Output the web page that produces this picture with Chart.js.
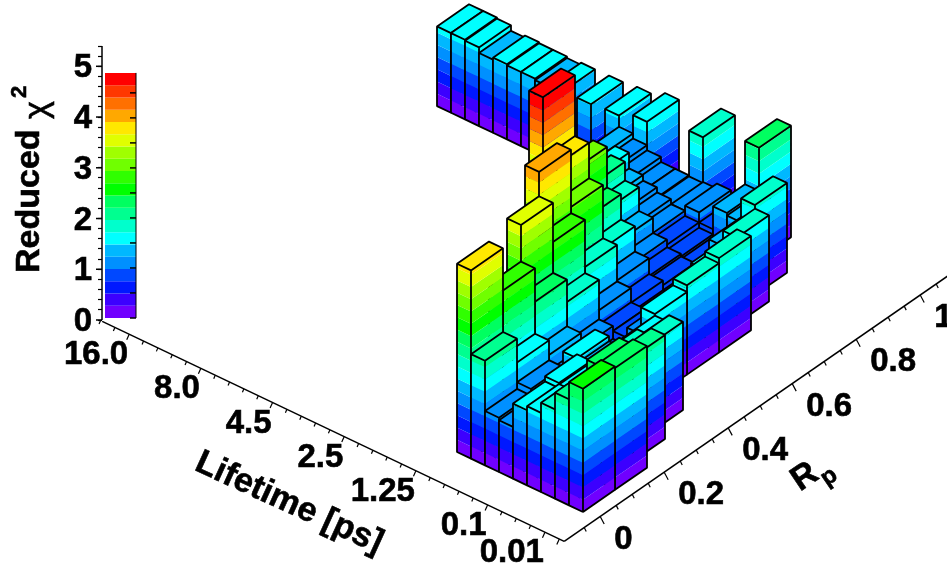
<!DOCTYPE html>
<html>
<head>
<meta charset="utf-8">
<title>Reduced chi2 lego</title>
<script src="https://cdn.jsdelivr.net/npm/chart.js@4/dist/chart.umd.js"></script>
<style>
html, body { margin: 0; padding: 0; background: #fff; }
#wrap { width: 947px; height: 573px; }
</style>
</head>
<body>
<div id="wrap"><canvas id="lego"></canvas></div>
<script>
// reduced chi2 per lifetime bin, one array per Rp bin (0 = empty bin)
const rp00 = [2.43, 2.09, 1.76, 1.56, 1.48, 1.02, 1.07, 2.06, 3.71];
const rp01 = [2.40, 2.30, 1.70, 1.55, 1.58, 1.10, 1.20, 1.59, 2.88];
const rp02 = [0, 2.05, 1.90, 1.60, 1.40, 1.50, 1.00, 1.30, 2.22, 3.60];
const rp03 = [0, 0, 1.74, 1.60, 1.20, 0.90, 0.75, 1.00, 1.78, 2.83, 4.08];
const rp04 = [0, 0, 0, 0, 1.63, 1.10, 0.90, 0.90, 1.18, 1.90, 2.95, 3.65, 4.85];
const rp05 = [0, 0, 0, 0, 1.76, 1.00, 0.80, 0.70, 0.89, 1.20, 1.70, 2.20, 3.00];
const rp06 = [0, 0, 0, 0, 1.86, 1.50, 0.80, 0.70, 0.80, 0.85, 1.00, 1.30, 1.77, 2.14];
const rp07 = [0, 0, 0, 0, 0, 1.70, 1.40, 0.80, 0.75, 0.80, 0.90, 1.00, 1.10, 1.20, 1.31, 1.62];
const rp08 = [0, 0, 0, 0, 0, 0, 1.77, 1.30, 1.35, 0.90, 1.10, 1.00, 0.98, 1.00, 1.00, 1.10, 1.20, 1.30];
const rp09 = [0, 0, 0, 0, 0, 0, 0, 0, 2.20, 0, 0, 0, 1.88, 0, 0, 0, 1.66, 0, 1.52, 0, 1.48, 0, 1.47, 1.43, 1.46, 1.46, 1.48, 1.44, 1.55, 1.57, 1.57];
const rpRows = [rp00, rp01, rp02, rp03, rp04, rp05, rp06, rp07, rp08, rp09];

const lifetimeLabels = ['16.0', '8.0', '4.5', '2.5', '1.25', '0.1', '0.01'];
const lifetimeLabelTicks = [0, 5, 10, 15, 20, 25, 29];
const rpLabels = ['0', '0.2', '0.4', '0.6', '0.8', '1'];
const zLabels = [0, 1, 2, 3, 4, 5];

const palette = ['#7000ff', '#3c00ff', '#0018ff', '#0048ff', '#0090ff', '#00b8ff', '#00ffff', '#00ffcc', '#00ff90', '#00ff60',
                 '#00ff00', '#30ff00', '#70ff00', '#a0ff00', '#e0ff00', '#ffe800', '#ffa800', '#ff7000', '#ff3800', '#ff0000'];
const bandStep = 0.2415;

// oblique view: x scale is in px across the page, y scale is chi2 with the floor below it
const pxPerUnit = 50.74;
const lifeDx = -14, lifeDy = 6.667 / pxPerUnit;
const rowDx = 32, rowDy = 22.14 / pxPerUnit;
const floorX = 583, floorY = (320 - 512) / pxPerUnit;
const yMin = -(573 - 320) / pxPerUnit, yMax = 320 / pxPerUnit;

function project(u, k, z) {
    return { x: floorX + lifeDx * u + rowDx * k, y: floorY + lifeDy * u + rowDy * k + z };
}

const datasets = [];

function addShape(points, color) {
    datasets.push({ data: points.concat([points[0]]), showLine: true, fill: 'shape', backgroundColor: color,
        borderWidth: 0, pointRadius: 0, clip: false });
}

function addLine(points, width) {
    datasets.push({ data: points, showLine: true, fill: false, borderColor: '#000', borderWidth: width,
        borderJoinStyle: 'bevel', pointRadius: 0, clip: false });
}

function addBar(u, k, z) {
    const at = (du, dk, h) => project(u + du, k + dk, h);
    const top = Math.min(Math.floor(z / bandStep), palette.length - 1);
    for (let b = 0; b <= top; b++) {
        const lo = b * bandStep, hi = Math.min((b + 1) * bandStep, z);
        addShape([at(1, 0, lo), at(0, 0, lo), at(0, 1, lo), at(0, 1, hi), at(0, 0, hi), at(1, 0, hi)], palette[b]);
    }
    addShape([at(1, 0, z), at(0, 0, z), at(0, 1, z), at(1, 1, z)], palette[top]);
    addLine([at(0, 0, 0), at(1, 0, 0), at(1, 0, z), at(1, 1, z), at(0, 1, z), at(0, 1, 0), at(0, 0, 0),
             at(0, 0, z), at(1, 0, z), at(0, 0, z), at(0, 1, z)], 1.8);
}

// back rows and far lifetime bins first so near bars paint over them
for (let k = rpRows.length - 1; k >= 0; k--) {
    for (let u = rpRows[k].length - 1; u >= 0; u--) {
        if (rpRows[k][u] > 0) addBar(u, k, rpRows[k][u]);
    }
}

// palette column
const barLeft = 105, barRight = 136, barShift = 2 / pxPerUnit;
palette.forEach((c, b) => {
    const lo = b * bandStep + barShift, hi = (b + 1) * bandStep + barShift;
    addShape([{ x: barLeft, y: lo }, { x: barRight, y: lo }, { x: barRight, y: hi }, { x: barLeft, y: hi }], c);
});
addLine([{ x: barRight, y: barShift }, { x: barRight, y: 20 * bandStep + barShift }], 1);
for (let i = 0; i < 10; i++) {
    addLine([{ x: barRight - 6, y: i * 0.493 + barShift }, { x: barRight, y: i * 0.493 + barShift }], 1.5);
}

// z axis
const zAxisX = 102;
addLine([{ x: zAxisX, y: 0 }, { x: zAxisX, y: 5.4 }], 1.5);
zLabels.forEach(v => addLine([{ x: zAxisX - 6, y: v }, { x: zAxisX, y: v }], 1.5));

// lifetime axis, runs along the row just in front of the first Rp bin
const axisRow = -1.025;
const tickStep = 1.024;
const lifeTickU = t => 30.07 - t * tickStep;
const lifePoint = u => project(u, axisRow, 0);
addLine([lifePoint(32), lifePoint(-1)], 1.5);
for (let t = -2; t <= 30; t++) {
    const p = lifePoint(lifeTickU(t));
    const major = t % 5 === 0 || t === 29;
    addLine([p, { x: p.x - (major ? 2.5 : 1.5), y: p.y - (major ? 5.5 : 3.5) / pxPerUnit }], 1.2);
}

// Rp axis
const rpPoint = k => project(-1, k, 0);
const rpTickK = rp => 0.1 + rp * 10;
addLine([rpPoint(-1.025), rpPoint(11.1)], 1.5);
for (let t = -1; t <= 21; t++) {
    const p = rpPoint(rpTickK(t / 20));
    const major = t % 4 === 0;
    addLine([p, { x: p.x + (major ? 4 : 2), y: p.y - (major ? 7.5 : 4) / pxPerUnit }], 1.2);
}

const zTicks = [];
for (let i = 0; i <= 27; i++) zTicks.push(i / 5);

const pageText = {
    id: 'pageText',
    afterDraw(chart) {
        const ctx = chart.ctx, sx = chart.scales.x, sy = chart.scales.y;
        const font = '"Liberation Sans", Arial, sans-serif';
        const put = (text, x, y, size, align, angle, weight) => {
            ctx.save();
            ctx.translate(x, y);
            ctx.rotate(angle * Math.PI / 180);
            ctx.font = (weight || 'bold') + ' ' + size + 'px ' + font;
            ctx.textAlign = align;
            ctx.textBaseline = 'middle';
            ctx.fillStyle = '#000';
            ctx.strokeStyle = '#000';
            ctx.lineWidth = 0.6;
            ctx.fillText(text, 0, 0);
            ctx.strokeText(text, 0, 0);
            ctx.restore();
        };
        zLabels.forEach(v => put(String(v), sx.getPixelForValue(zAxisX) - 10, sy.getPixelForValue(v) + 2, 33, 'right', 0));
        lifetimeLabels.forEach((label, i) => {
            const p = lifePoint(lifeTickU(lifetimeLabelTicks[i]));
            put(label, sx.getPixelForValue(p.x) - 1, sy.getPixelForValue(p.y) + 21, 33, 'right', 0);
        });
        rpLabels.forEach((label, i) => {
            const p = rpPoint(rpTickK(i * 0.2));
            put(label, sx.getPixelForValue(p.x) + 14, sy.getPixelForValue(p.y) + 23, 33, 'left', 0);
        });
        put('Lifetime [ps]', 289, 503, 34, 'center', 24.5);
        put('R', 805, 477, 34, 'center', -34);
        put('p', 829, 477, 24, 'center', -34);
        put('Reduced', 30, 273, 34, 'left', -90);
        put('\u03c7', 38, 110, 34, 'center', -90, 'normal');
        put('2', 20, 92, 22, 'center', -90);
    }
};

// Chart.js paints the first dataset last, so hand them over in reverse
datasets.reverse();

new Chart(document.getElementById('lego'), {
    type: 'scatter',
    data: { datasets: datasets },
    options: {
        responsive: true,
        maintainAspectRatio: false,
        animation: false,
        events: [],
        layout: { padding: 0, autoPadding: false },
        plugins: { legend: { display: false }, tooltip: { enabled: false } },
        scales: {
            x: { type: 'linear', min: 0, max: 947, display: false },
            y: {
                type: 'linear',
                min: yMin,
                max: yMax,
                position: { x: zAxisX },
                afterBuildTicks: s => { s.ticks = zTicks.map(v => ({ value: v })); },
                border: { display: false },
                grid: { drawOnChartArea: false, tickLength: 4, tickWidth: 1.2, tickColor: '#000' },
                ticks: { display: false }
            }
        }
    },
    plugins: [pageText]
});
</script>
</body>
</html>
